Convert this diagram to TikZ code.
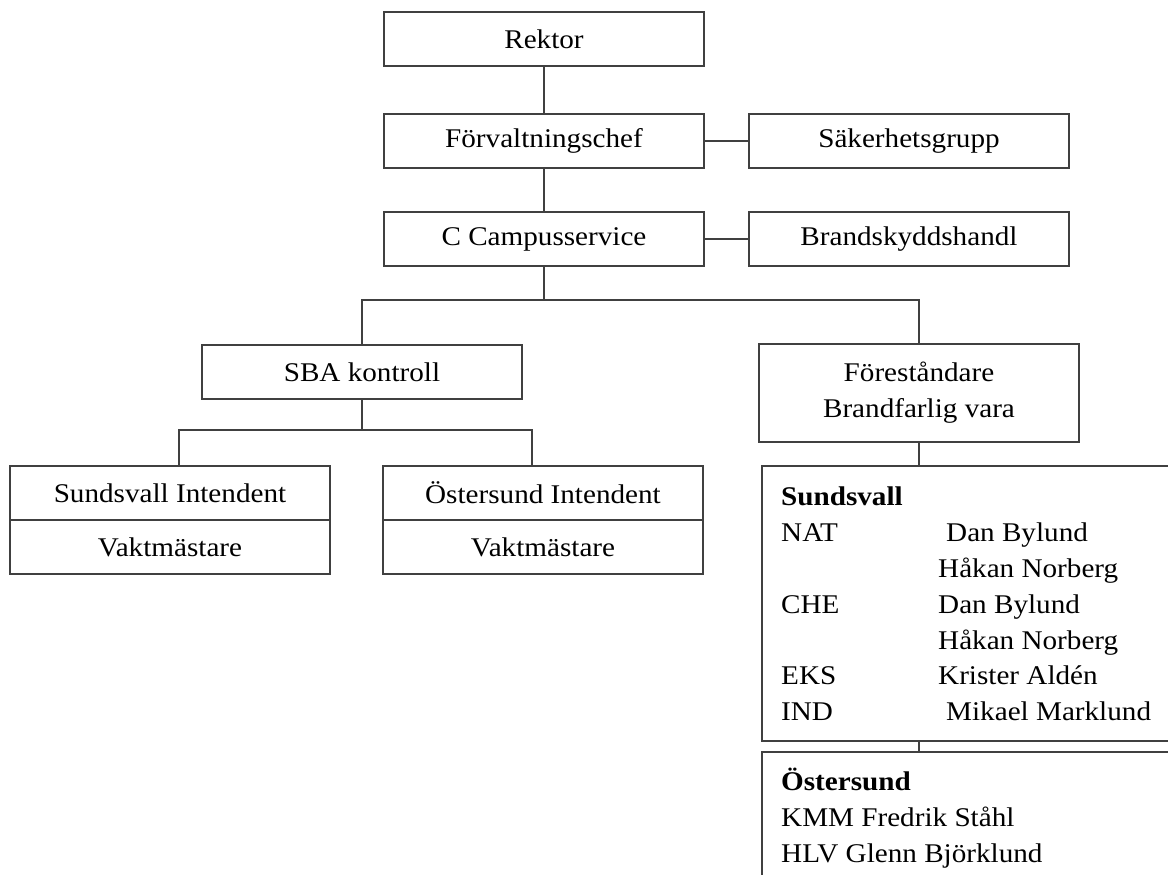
\documentclass[tikz,border=0pt]{standalone}
\usepackage{fontspec}
\setmainfont{Liberation Serif}[FakeStretch=1.08]
\begin{document}
\begin{tikzpicture}[x=1pt,y=-1pt,
  box/.style={draw=black!75, line width=1.3pt, fill=white, minimum width=320pt, minimum height=54pt, inner sep=0pt, outer sep=0pt, font=\fontsize{27}{36}\selectfont, align=center},
  conn/.style={draw=black!75, line width=1.3pt},
  lst/.style={anchor=base west, inner sep=0pt, font=\fontsize{27}{36}\selectfont}]
\useasboundingbox (0,0) rectangle (1168,875);
\fill[white] (0,0) rectangle (1168,875);
\clip (0,0) rectangle (1168,875);
% top chain
\node[box] (rektor) at (544,39) {Rektor};
\node[box] (forv) at (544,141) {Förvaltningschef};
\node[box] (saker) at (909,141) {Säkerhetsgrupp};
\node[box] (camp) at (544,239) {C Campusservice};
\node[box] (brand) at (909,239) {Brandskyddshandl};
\node[box] (sba) at (362,372) {SBA kontroll};
\node[box, minimum height=98pt] (fore) at (919,393) {Föreståndare\\Brandfarlig vara};
\node[box] (sundTop) at (170,493) {Sundsvall Intendent};
\node[box] (sundBot) at (170,547) {Vaktmästare};
\node[box] (ostTop) at (543,493) {Östersund Intendent};
\node[box] (ostBot) at (543,547) {Vaktmästare};
% list boxes
\node[box, anchor=north west, minimum width=450pt, minimum height=275pt] (sv) at (762,466) {};
\node[box, anchor=north west, minimum width=450pt, minimum height=160pt] (os) at (762,752) {};
% connectors
\draw[conn] (rektor) -- (forv);
\draw[conn] (forv) -- (camp);
\draw[conn] (forv) -- (saker);
\draw[conn] (camp) -- (brand);
\draw[conn] (camp.south) -- ++(0,34) coordinate (campj);
\draw[conn] (sba.north) |- (campj) -| (fore.north);
\draw[conn] (sba.south) -- ++(0,31) coordinate (sbaj);
\draw[conn] ([xshift=9pt]sundTop.north) |- (sbaj) -| ([xshift=-11pt]ostTop.north);
\draw[conn] (fore.south) -- (fore.south |- sv.north);
\draw[conn] (fore.south |- sv.south) -- (fore.south |- os.north);
% Sundsvall list
\node[lst] (svh) at (781,505) {\textbf{Sundsvall}};
\node[lst] (nat) at (781,541) {NAT};
\node[lst] (nat1) at (946,541) {Dan Bylund};
\node[lst] (nat2) at (938,577) {Håkan Norberg};
\node[lst] (che) at (781,613) {CHE};
\node[lst] (che1) at (938,613) {Dan Bylund};
\node[lst] (che2) at (938,649) {Håkan Norberg};
\node[lst] (eks) at (781,684) {EKS};
\node[lst] (eks1) at (938,684) {Krister Aldén};
\node[lst] (ind) at (781,720) {IND};
\node[lst] (ind1) at (946,720) {Mikael Marklund};
% Östersund list
\node[lst] (osh) at (781,790) {\textbf{Östersund}};
\node[lst] (kmm) at (781,826) {KMM Fredrik Ståhl};
\node[lst] (hlv) at (781,862) {HLV Glenn Björklund};
\end{tikzpicture}
\end{document}
